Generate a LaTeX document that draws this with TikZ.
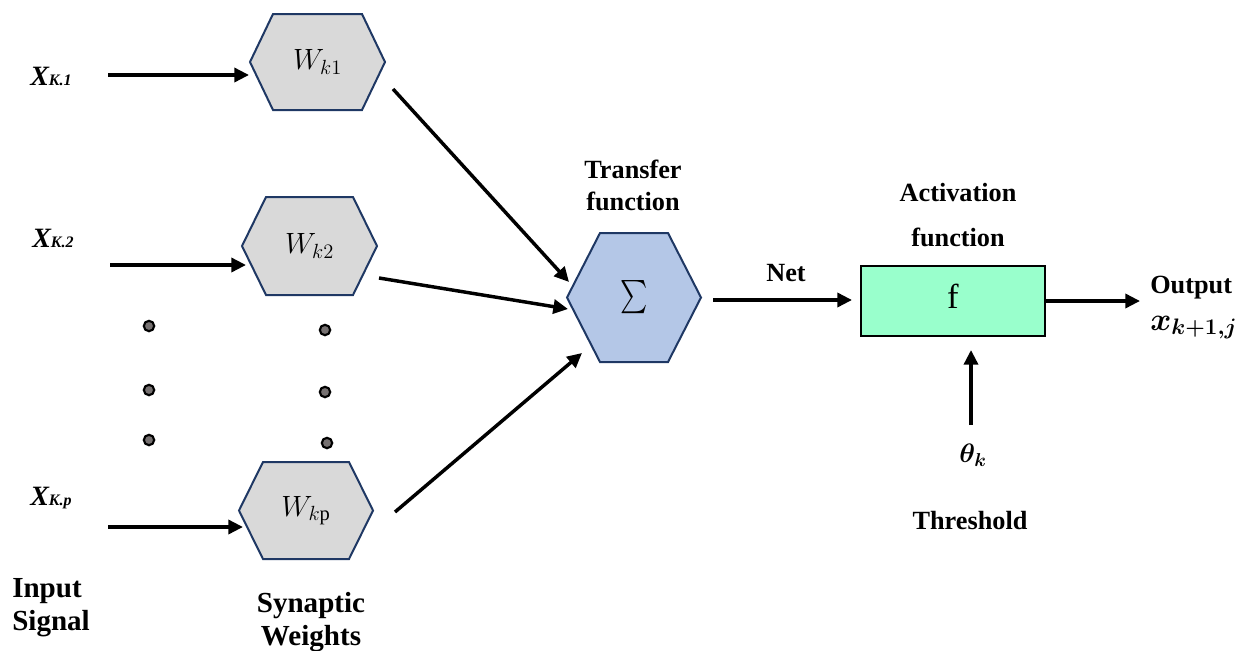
\RequirePackage{fix-cm}
\documentclass[tikz,border=0pt]{standalone}
\usepackage{exscale}
\usepackage{fontspec}
\setmainfont{Liberation Serif}
\usepackage{bm}
\usetikzlibrary{arrows.meta,calc}

\definecolor{hexgray}{HTML}{D9D9D9}
\definecolor{hexedge}{HTML}{1F3864}
\definecolor{sumblue}{HTML}{B4C7E7}
\definecolor{actmint}{HTML}{99FFCC}
\definecolor{dotgray}{HTML}{767171}

% flat-topped hexagon: centre, half width, half height, inset of the top edge, style
\newcommand\hexpath[5]{%
  \draw[#5] ($(#1)+(-#2,0)$) -- ($(#1)+(-#2+#4,-#3)$) -- ($(#1)+(#2-#4,-#3)$)
    -- ($(#1)+(#2,0)$) -- ($(#1)+(#2-#4,#3)$) -- ($(#1)+(-#2+#4,#3)$) -- cycle;}

\begin{document}
\begin{tikzpicture}[x=0.75pt,y=-0.75pt,
  arr/.style={line width=2.6pt,-{Triangle[length=11pt,width=10.5pt]}},
  wshape/.style={draw=hexedge,fill=hexgray,line width=1.5pt,line join=miter},
  sshape/.style={draw=hexedge,fill=sumblue,line width=1.5pt,line join=miter},
  wtext/.style={inner sep=0pt,font=\fontsize{22}{22}\selectfont},
  lbl/.style={inner sep=0pt,font=\fontsize{19.7}{24}\selectfont\bfseries,align=center},
  biglbl/.style={inner sep=0pt,font=\fontsize{21.8}{24.75}\selectfont\bfseries},
  xin/.style={inner sep=0pt,anchor=base west,font=\bfseries\itshape},
  dotmark/.style={circle,draw=black,fill=dotgray,line width=1.6pt,minimum size=7.8pt,inner sep=0pt}]

\useasboundingbox (0,0) rectangle (1253,650);

% centres of the hexagons
\coordinate (w1c) at (317.5,62);
\coordinate (w2c) at (309.5,246);
\coordinate (wpc) at (306,510.5);
\coordinate (sc)  at (634,297.5);

\hexpath{w1c}{67.5}{48}{23}{wshape}
\hexpath{w2c}{67.5}{49}{24}{wshape}
\hexpath{wpc}{67}{48.5}{24}{wshape}
\hexpath{sc}{67}{64.5}{33}{sshape}

\node[wtext] (w1) at (w1c) {$W_{k1}$};
\node[wtext] (w2) at (w2c) {$W_{k2}$};
\node[wtext] (wp) at (wpc) {$W_{k\mathrm{p}}$};
\node[inner sep=0pt,font=\fontsize{29}{29}\selectfont] (sum) at (sc) {\scalebox{0.78}[1]{$\sum$}};

% input signals
\node[xin] (x1) at (30,85) {{\fontsize{21}{21}\selectfont X}{\fontsize{12}{12}\selectfont K.1}};
\node[xin] (x2) at (32,247) {{\fontsize{21}{21}\selectfont X}{\fontsize{12}{12}\selectfont K.2}};
\node[xin] (xp) at (30,505) {{\fontsize{21}{21}\selectfont X}{\fontsize{12}{12}\selectfont K.p}};

\coordinate (x1s) at (108,75);  \coordinate (x1e) at (249,75);
\coordinate (x2s) at (110,265); \coordinate (x2e) at (246,265);
\coordinate (xps) at (108,527); \coordinate (xpe) at (243,527);
\draw[arr] (x1s) -- (x1e);
\draw[arr] (x2s) -- (x2e);
\draw[arr] (xps) -- (xpe);

% ellipsis dots
\node[dotmark] (d1) at (149,326) {};
\node[dotmark] (d2) at (149,390) {};
\node[dotmark] (d3) at (149,440) {};
\node[dotmark] (d4) at (325,330) {};
\node[dotmark] (d5) at (325,392) {};
\node[dotmark] (d6) at (327,443) {};

% weighted inputs into the summation
\coordinate (w1o) at (393,89);  \coordinate (s1) at (569,282);
\coordinate (w2o) at (379,278); \coordinate (s2) at (568,309);
\coordinate (wpo) at (395,512); \coordinate (s3) at (582,353);
\draw[arr] (w1o) -- (s1);
\draw[arr] (w2o) -- (s2);
\draw[arr] (wpo) -- (s3);

% activation block
\node[draw=black,fill=actmint,line width=1.5pt,minimum width=138pt,minimum height=52.5pt,inner sep=0pt] (act) at (953,301) {};
\node[inner sep=0pt,anchor=base,font=\fontsize{26}{26}\selectfont] (f) at (953,308) {f};

\coordinate (nets) at (713,300); \coordinate (nete) at (852,300);
\draw[arr] (nets) -- (nete);
\node[lbl,anchor=base] (net) at (786,281) {Net};

\coordinate (outs) at (1046,301); \coordinate (oute) at (1140,301);
\draw[arr] (outs) -- (oute);
\node[lbl,anchor=base west] (outl) at (1150,293) {Output};
\node[inner sep=0pt,anchor=base west,font=\fontsize{24}{24}\selectfont] (outx) at (1150,330) {$\bm{x}_{\bm{k+1,j}}$};

\coordinate (ths) at (971,425); \coordinate (the) at (971,350);
\draw[arr] (ths) -- (the);
\node[inner sep=0pt,anchor=base west,font=\fontsize{20}{20}\selectfont] (theta) at (959,462) {$\bm{\theta}_{\bm{k}}$};
\node[lbl,anchor=base] (thr) at (970,529) {Threshold};

% captions (anchored at the baseline of their last line)
\node[lbl,anchor=base] (tf) at (633,210) {Transfer\\function};
\node[lbl,anchor=base,font=\fontsize{19.7}{33.75}\selectfont\bfseries] (af) at (958,246) {Activation\\function};
\node[biglbl,anchor=base west,align=left] (ins) at (12,630) {Input\\Signal};
\node[biglbl,anchor=base,align=center] (syn) at (311,645) {Synaptic\\Weights};
\end{tikzpicture}
\end{document}
